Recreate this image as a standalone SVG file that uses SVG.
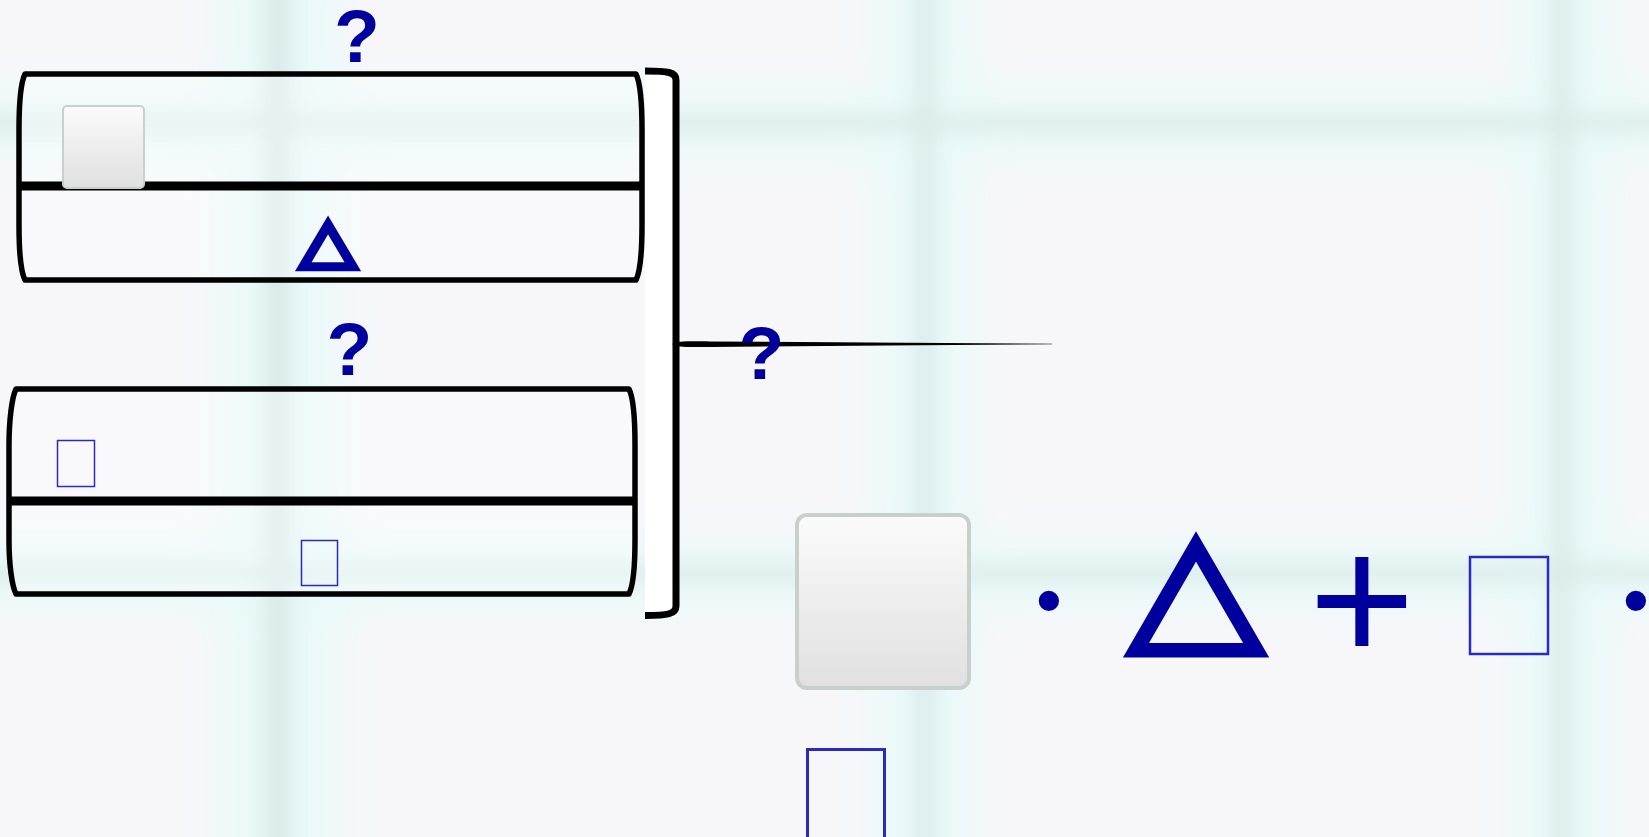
<svg xmlns="http://www.w3.org/2000/svg" width="1649" height="837" viewBox="0 0 1649 837">
<style>
.q{font-family:"Liberation Sans",Arial,sans-serif;font-weight:bold;font-size:75px;fill:#00009c;text-anchor:middle}
.sym{font-family:"Liberation Sans",Arial,sans-serif;fill:#00009c;text-anchor:middle}
.tri{font-family:"DejaVu Sans",sans-serif;fill:#00009c;stroke:#00009c;stroke-linejoin:miter;text-anchor:middle}
.box{fill:#ffffff;fill-opacity:0.3;stroke:#000;stroke-width:5.5;stroke-linejoin:round}
.div{stroke:#000;stroke-width:9}
.tofu{fill:none;stroke:#2a2ac0}
.card{stroke:#c8d0cc}
</style>
<defs>
<linearGradient id="cardg" x1="0" y1="0" x2="0" y2="1">
<stop offset="0" stop-color="#fbfbfb"/>
<stop offset="1" stop-color="#e0e0e0"/>
</linearGradient>
<filter id="b1" x="-100%" y="-100%" width="300%" height="300%"><feGaussianBlur stdDeviation="10"/></filter>
<filter id="b2" x="-100%" y="-100%" width="300%" height="300%"><feGaussianBlur stdDeviation="22"/></filter>
</defs>
<g id="background">
<rect x="0" y="0" width="1649" height="837" fill="#f7f7fa"/>
<g filter="url(#b2)" fill="#e8f9f9">
<rect x="225" y="-50" width="110" height="950"/>
<rect x="880" y="-50" width="90" height="950"/>
<rect x="1520" y="-50" width="90" height="950"/>
<rect x="-50" y="95" width="1750" height="60"/>
<rect x="-50" y="545" width="1750" height="60"/>
</g>
<g filter="url(#b1)" fill="#d4e4e2" opacity="0.75">
<rect x="265" y="-50" width="25" height="950"/>
<rect x="916" y="-50" width="18" height="950"/>
<rect x="1553" y="-50" width="18" height="950"/>
<rect x="-50" y="116" width="1750" height="14"/>
<rect x="-50" y="566" width="1750" height="14"/>
</g>
</g>
<g id="box-top">
<path class="box" d="M25,74 L636,74 C640,82 642,105 642,130 L642,225 C642,250 640,272 636,280 L25,280 C21,272 19,250 19,225 L19,130 C19,105 21,82 25,74 Z"/>
<line class="div" x1="18" y1="186" x2="643" y2="186"/>
<rect class="card" x="63" y="106" width="81" height="82" rx="4" fill="url(#cardg)" stroke-width="2"/>
<text class="tri" font-size="73" stroke-width="6.5" transform="translate(328,260.8) scale(1,0.84)">△</text>
</g>
<text id="label-top" class="q" x="357" y="61.5" font-size="68">?</text>
<g id="box-bottom">
<path class="box" d="M16,389 L629,389 C633,397 635,420 635,445 L635,540 C635,565 633,586 629,594 L16,594 C12,586 9,565 9,540 L9,445 C9,420 12,397 16,389 Z"/>
<line class="div" x1="8" y1="501" x2="636" y2="501"/>
<rect class="tofu" x="57.5" y="440.5" width="37" height="46" stroke-width="1.5"/>
<rect class="tofu" x="301.5" y="540.5" width="36" height="45" stroke-width="1.5"/>
</g>
<text id="label-bottom" class="q" x="349.5" y="375">?</text>
<g id="connectors">
<rect x="645" y="68" width="31" height="549" fill="#ffffff"/>
<path d="M645,71 C668,71 676,72 676,80 L676,606 C676,614 668,615.5 645,615.5" fill="none" stroke="#000" stroke-width="7"/>
<path d="M672,344 C678,341 686,341.2 710,341.4 L1052,343.7 L1052,344.3 L710,347 C686,347.2 678,347.5 672,344 Z" fill="#000"/>
</g>
<text id="label-join" class="q" x="761.5" y="378.5">?</text>
<g id="equation">
<rect class="card" x="797" y="515" width="172" height="173" rx="10" fill="url(#cardg)" stroke-width="4"/>
<text class="sym" font-size="75" x="1049" y="625.5">•</text>
<text class="tri" font-size="177" stroke-width="7" transform="translate(1196,636.3) scale(1,0.86)">△</text>
<text class="sym" font-size="182" x="1362" y="662">+</text>
<rect class="tofu" x="1470" y="557" width="78" height="97" stroke-width="2.5" stroke="#1010b0"/>
<text class="sym" font-size="75" x="1636" y="625.5">•</text>
<rect class="tofu" x="807.5" y="749.5" width="77" height="100" stroke-width="3" stroke="#1010b0"/>
</g>
</svg>
